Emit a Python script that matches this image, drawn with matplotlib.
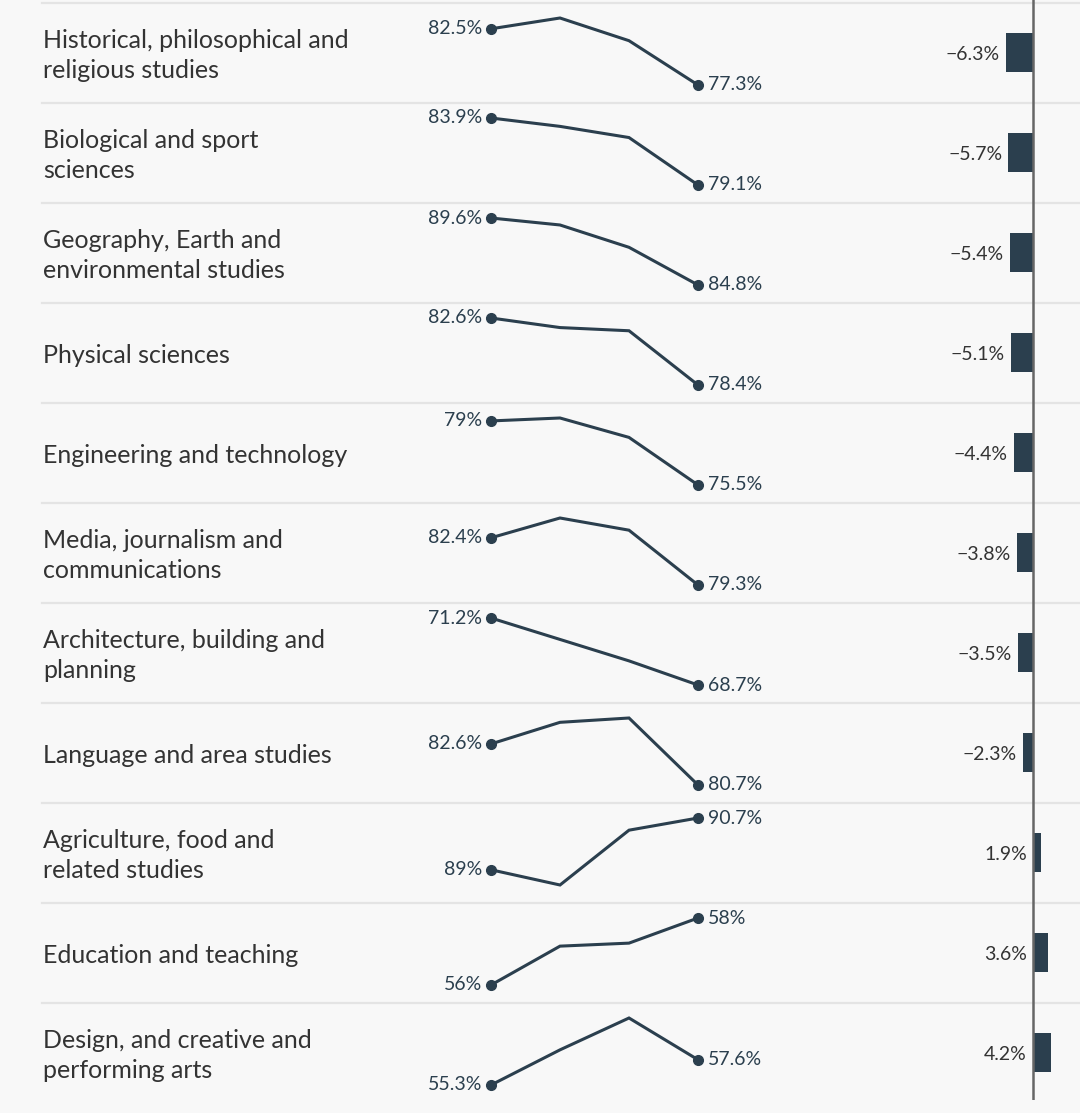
import matplotlib
matplotlib.use("Agg")
import matplotlib.pyplot as plt

# ── Data ─────────────────────────────────────────────────────────────────────
subjects = [
    "Historical, philosophical and\nreligious studies",
    "Biological and sport\nsciences",
    "Geography, Earth and\nenvironmental studies",
    "Physical sciences",
    "Engineering and technology",
    "Media, journalism and\ncommunications",
    "Architecture, building and\nplanning",
    "Language and area studies",
    "Agriculture, food and\nrelated studies",
    "Education and teaching",
    "Design, and creative and\nperforming arts",
]
trend = [
    [82.5, 83.5, 81.4, 77.3],
    [83.9, 83.3, 82.5, 79.1],
    [89.6, 89.1, 87.5, 84.8],
    [82.6, 82.0, 81.8, 78.4],
    [79.0, 79.16, 78.1, 75.5],
    [82.4, 83.7, 82.9, 79.3],
    [71.2, 70.4, 69.6, 68.7],
    [82.6, 83.6, 83.8, 80.7],
    [89.0, 88.5, 90.3, 90.7],
    [56.0, 57.16, 57.25, 58.0],
    [55.3, 58.5, 61.4, 57.6],
]
first_labels = ["82.5%", "83.9%", "89.6%", "82.6%", "79%", "82.4%",
                "71.2%", "82.6%", "89%", "56%", "55.3%"]
last_labels = ["77.3%", "79.1%", "84.8%", "78.4%", "75.5%", "79.3%",
               "68.7%", "80.7%", "90.7%", "58%", "57.6%"]
change = [-6.3, -5.7, -5.4, -5.1, -4.4, -3.8, -3.5, -2.3, 1.9, 3.6, 4.2]
change_labels = ["−6.3%", "−5.7%", "−5.4%", "−5.1%", "−4.4%", "−3.8%",
                 "−3.5%", "−2.3%", "1.9%", "3.6%", "4.2%"]

# ── Style ────────────────────────────────────────────────────────────────────
W, H = 1080, 1113
BG = "#f8f8f8"
DARK = "#2b3f4e"
TEXT = "#333333"
GRID = "#e4e4e4"
plt.rcParams["font.family"] = ["Lato", "DejaVu Sans"]

fig = plt.figure(figsize=(W / 100, H / 100), dpi=100, facecolor=BG)

# background axes in pixel coords for labels and separators
ax_bg = fig.add_axes([0, 0, 1, 1])
ax_bg.set_xlim(0, W)
ax_bg.set_ylim(H, 0)
ax_bg.axis("off")

ROW0, ROWH = 2.5, 100.0
SPARK_X0, SPARK_X1 = 491, 698

for i, name in enumerate(subjects):
    top = ROW0 + ROWH * i
    ax_bg.plot([42, W], [top, top], color=GRID, lw=1.6, zorder=0)
    ax_bg.text(43, top + 53, name, fontsize=18, color=TEXT,
               va="center", ha="left", linespacing=1.4)

    # sparkline axes, each row scaled to its own min/max
    vals = trend[i]
    lo, hi = min(vals), max(vals)
    y_top = top + 15.5
    y_bot = top + 82.5
    ax = fig.add_axes([SPARK_X0 / W, 1 - y_bot / H,
                       (SPARK_X1 - SPARK_X0) / W, (y_bot - y_top) / H])
    ax.set_xlim(0, 3)
    ax.set_ylim(lo, hi)
    ax.axis("off")
    xs = list(range(len(vals)))
    ax.plot(xs, vals, color=DARK, lw=2.2, clip_on=False,
            solid_joinstyle="miter")
    ax.plot([xs[0], xs[-1]], [vals[0], vals[-1]], "o", color=DARK,
            ms=7, clip_on=False)
    ax.annotate(first_labels[i], (xs[0], vals[0]), xytext=(-6.5, 0),
                textcoords="offset points", ha="right", va="center",
                fontsize=14, color=DARK)
    ax.annotate(last_labels[i], (xs[-1], vals[-1]), xytext=(7.5, 0),
                textcoords="offset points", ha="left", va="center",
                fontsize=14, color=DARK)

# ── Change bars ──────────────────────────────────────────────────────────────
ZERO_X, PX_PER = 1033, 4.3
BX0, BX1 = 880, W
ax_bar = fig.add_axes([BX0 / W, 1 - 1100 / H, (BX1 - BX0) / W, 1100 / H])
ax_bar.set_xlim((BX0 - ZERO_X) / PX_PER, (BX1 - ZERO_X) / PX_PER)
ax_bar.set_ylim(10.475, -0.525)
ax_bar.axis("off")
ax_bar.barh(range(len(change)), change, height=0.39, color=DARK, zorder=2)
ax_bar.axvline(0, color="#666666", lw=1.8, zorder=3)
for i, (c, lab) in enumerate(zip(change, change_labels)):
    xpos = min(c, 0)
    ax_bar.annotate(lab, (xpos, i + 0.02), xytext=(-4.5, 0),
                    textcoords="offset points", ha="right", va="center",
                    fontsize=14, color=TEXT)

fig.savefig("out.png", dpi=100, facecolor=BG)
